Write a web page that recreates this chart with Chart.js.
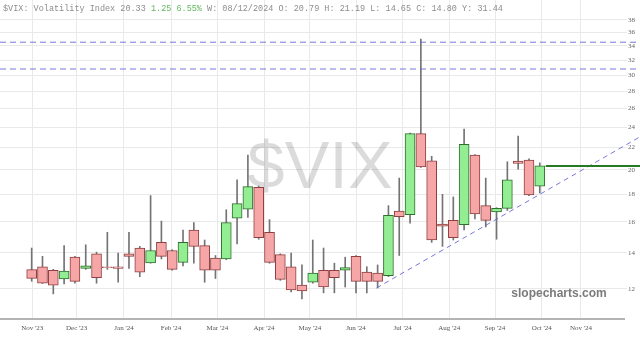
<!DOCTYPE html>
<html>
<head>
<meta charset="utf-8">
<script src="https://cdn.jsdelivr.net/npm/chart.js@4.4.1/dist/chart.umd.min.js"></script>
<style>
  html, body { margin: 0; padding: 0; background: #fff; }
  #wrap { width: 640px; height: 340px; position: relative; }
</style>
</head>
<body>
<div id="wrap"><canvas id="vixChart"></canvas></div>
<script>
// ── DATA (weekly $VIX candles, first bar = week of 27 Nov 2023) ──────────────
const opens  = [13.04, 13.2, 13.0, 12.53, 13.75, 13.1, 13.95, 13.2, 13.2, 13.95,
                14.3, 13.42, 14.65, 14.15, 13.45, 15.45, 14.45, 13.7, 13.65, 16.25,
                16.9, 18.55, 15.3, 13.9, 13.2, 12.2, 12.35, 13.0, 13.0, 13.0,
                13.8, 12.9, 12.85, 12.7, 16.75, 16.5, 23.35, 20.79, 15.85, 16.1,
                15.8, 21.3, 17.15, 16.7, 16.95, 20.75, 20.85, 18.65];
const highs  = [14.3, 13.8, 13.05, 14.45, 13.8, 14.5, 14.05, 15.3, 14.0, 15.3,
                14.4, 17.9, 16.05, 14.2, 15.45, 15.95, 14.8, 13.85, 16.85, 19.15,
                21.3, 18.65, 16.15, 13.95, 14.0, 13.3, 14.8, 14.3, 13.4, 13.75,
                13.85, 13.2, 13.3, 17.15, 19.3, 23.4, 35.0, 21.19, 18.0, 17.8,
                23.8, 21.35, 19.3, 17.0, 20.7, 23.1, 20.95, 20.6];
const lows   = [12.4, 12.28, 11.75, 12.26, 12.3, 13.05, 12.3, 13.05, 12.35, 13.1,
                12.65, 13.4, 13.65, 13.0, 13.25, 13.4, 12.35, 12.55, 13.6, 14.55,
                16.3, 14.85, 13.4, 12.45, 11.85, 11.5, 12.3, 11.8, 11.8, 12.1,
                11.8, 11.8, 12.05, 12.65, 13.85, 15.9, 20.2, 14.65, 14.4, 14.8,
                15.45, 16.2, 15.65, 14.85, 16.8, 20.05, 17.9, 18.1];
const closes = [12.56, 12.3, 12.2, 12.95, 12.4, 13.25, 12.6, 13.15, 13.1, 13.8,
                12.9, 14.15, 13.8, 13.05, 14.65, 14.4, 13.0, 13.0, 15.95, 17.3,
                18.6, 14.95, 13.45, 12.5, 11.95, 11.9, 12.85, 12.1, 12.6, 13.15,
                12.4, 12.4, 12.4, 16.45, 16.35, 23.35, 20.25, 14.80, 15.7, 14.95,
                22.3, 16.55, 16.1, 16.95, 19.15, 20.55, 17.95, 20.33];

// month markers, in weeks from the first bar
const monthPos    = [0.06, 4.16, 8.54, 12.89, 17.17, 21.49, 25.74, 30.0, 34.32, 38.63, 42.86, 47.18, 50.81];
const monthLabels = ["Nov '23", "Dec '23", "Jan '24", "Feb '24", "Mar '24", "Apr '24", "May '24",
                     "Jun '24", "Jul '24", "Aug '24", "Sep '24", "Oct '24", "Nov '24"];
const yTicks = [12, 14, 16, 18, 20, 22, 24, 26, 28, 30, 32, 34, 36, 38];

// drawn levels
const resistLevels = [34.55, 30.8];
const trendStart = { x: 31.9, y: 12.05 };
const trendEnd   = { x: 56.3, y: 23.05 };

const X_MIN = -2.93, X_MAX = 54.79, X_EDGE = 56.3;
const Y_MIN = 10.55, Y_MAX = 41.4;

const headerParts = [
  { t: "$VIX: Volatility Index 20.33 ", c: "#8e8e8e" },
  { t: "1.25 6.55% ", c: "#63b863" },
  { t: "W: 08/12/2024 O: 20.79 H: 21.19 L: 14.65 C: 14.80 Y: 31.44", c: "#8e8e8e" },
];

// ── PLUGINS ─────────────────────────────────────────────────────────────────
const watermark = {
  id: "watermark",
  beforeDatasetsDraw(chart) {
    const ctx = chart.ctx;
    ctx.save();
    ctx.font = "67px 'Liberation Sans', Arial, sans-serif";
    ctx.fillStyle = "rgba(0,0,0,0.14)";
    ctx.textAlign = "center";
    ctx.textBaseline = "alphabetic";
    ctx.fillText("$VIX", 320, 188);
    ctx.restore();
  }
};

const overlay = {
  id: "overlay",
  afterDraw(chart) {
    const ctx = chart.ctx;
    ctx.save();
    ctx.font = "8.5px 'Liberation Mono', monospace";
    ctx.textBaseline = "alphabetic";
    ctx.textAlign = "left";
    let x = 3;
    headerParts.forEach(p => {
      ctx.fillStyle = p.c;
      ctx.fillText(p.t, x, 11);
      x += ctx.measureText(p.t).width;
    });

    ctx.font = "bold 12px 'Liberation Sans', Arial, sans-serif";
    ctx.fillStyle = "#7b7b7b";
    ctx.textAlign = "center";
    ctx.fillText("slopecharts.com", 559, 297);
    ctx.restore();
  }
};

// ── CHART ───────────────────────────────────────────────────────────────────
const idx = opens.map((_, i) => i);
const isUp = i => closes[i] >= opens[i];
const last = closes.length - 1;

const datasets = [
  {
    type: "bar",
    data: idx.map(i => ({ x: i, y: [lows[i], highs[i]] })),
    backgroundColor: "#747474",
    barThickness: 1,
    grouped: false,
    order: 4
  },
  {
    type: "bar",
    data: idx.map(i => ({ x: i, y: [opens[i], closes[i]] })),
    backgroundColor: idx.map(i => isUp(i) ? "#93ee93" : "#f6a6a6"),
    borderColor: idx.map(i => isUp(i) ? "#2f6e2f" : "#8e4040"),
    borderWidth: 1,
    borderSkipped: false,
    barThickness: 10,
    grouped: false,
    order: 3
  },
  ...resistLevels.map(v => ({
    type: "line",
    data: [{ x: X_MIN, y: v }, { x: X_EDGE, y: v }],
    borderColor: "rgba(95,95,215,0.85)",
    borderWidth: 1,
    borderDash: [6, 4],
    pointRadius: 0,
    clip: false,
    order: 1
  })),
  {
    type: "line",
    data: [trendStart, trendEnd],
    borderColor: "rgba(95,95,215,0.85)",
    borderWidth: 1,
    borderDash: [5, 4],
    pointRadius: 0,
    clip: false,
    order: 1
  },
  {
    type: "line",
    data: [{ x: last + 0.55, y: closes[last] }, { x: X_EDGE, y: closes[last] }],
    borderColor: "#237a23",
    borderWidth: 2,
    pointRadius: 0,
    clip: false,
    order: 0
  }
];

new Chart(document.getElementById("vixChart"), {
  type: "bar",
  data: { datasets },
  options: {
    responsive: true,
    maintainAspectRatio: false,
    animation: false,
    layout: { padding: 0 },
    plugins: { legend: { display: false }, tooltip: { enabled: false } },
    scales: {
      x: {
        type: "linear",
        offset: false,
        min: X_MIN,
        max: X_MAX,
        afterBuildTicks: s => { s.ticks = monthPos.map(v => ({ value: v })); },
        afterFit: s => { s.height = 21; s.paddingLeft = 0; s.paddingRight = 0; },
        ticks: {
          callback: (v, i) => monthLabels[i],
          font: { family: "'Liberation Serif', serif", size: 7 },
          color: "#555",
          padding: 5,
          maxRotation: 0,
          autoSkip: false
        },
        grid: { color: "#e9e9e9", drawTicks: false, offset: false },
        border: { color: "#b4b4b4", width: 2 }
      },
      y: {
        type: "logarithmic",
        position: "right",
        min: Y_MIN,
        max: Y_MAX,
        afterBuildTicks: s => { s.ticks = yTicks.map(v => ({ value: v })); },
        afterFit: s => { s.width = 16; s.paddingTop = 0; s.paddingBottom = 0; },
        ticks: {
          callback: v => String(v),
          font: { family: "'Liberation Serif', serif", size: 7 },
          color: "#666",
          padding: 1,
          autoSkip: false
        },
        grid: { color: "#e9e9e9", tickLength: 3 },
        border: { display: false }
      }
    }
  },
  plugins: [watermark, overlay]
});
</script>
</body>
</html>
